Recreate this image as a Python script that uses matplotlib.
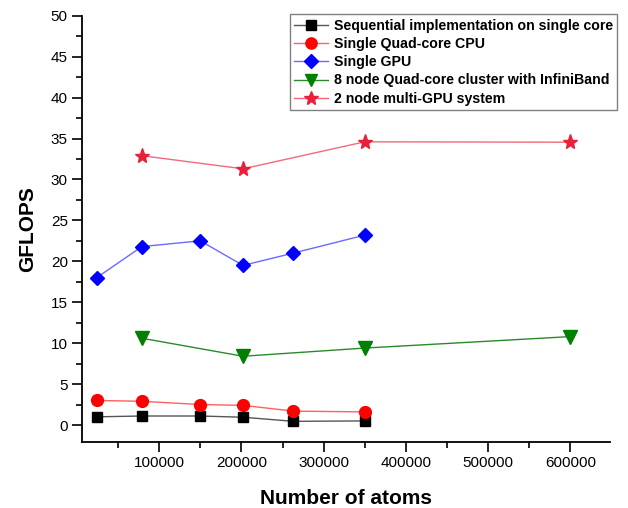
import numpy as np
import matplotlib
matplotlib.use('Agg')
import matplotlib.pyplot as plt
from matplotlib.ticker import MultipleLocator

plt.rcParams['font.family'] = ['Liberation Sans', 'DejaVu Sans']

# Data
atoms6 = [24000, 79000, 150000, 202000, 263000, 350000]
atoms4 = [79000, 202000, 350000, 600000]

seq_core = [1.0, 1.1, 1.1, 0.95, 0.45, 0.5]
quad_cpu = [3.0, 2.9, 2.5, 2.4, 1.7, 1.6]
single_gpu = [18.0, 21.8, 22.5, 19.5, 21.0, 23.2]
cluster_ib = [10.6, 8.4, 9.4, 10.8]
multi_gpu = [32.9, 31.3, 34.6, 34.55]

labels = ['Sequential implementation on single core',
          'Single Quad-core CPU',
          'Single GPU',
          '8 node Quad-core cluster with InfiniBand',
          '2 node multi-GPU system']

fig = plt.figure(figsize=(6.28, 5.08), dpi=100)
ax = fig.add_axes([0.130, 0.1305, 0.841, 0.8385])

ax.plot(atoms6, seq_core, color='#555555', lw=1, marker='s', ms=7.5,
        mfc='black', mec='black', label=labels[0])
ax.plot(atoms6, quad_cpu, color='#ff6060', lw=1, marker='o', ms=8.5,
        mfc='red', mec='red', label=labels[1])
ax.plot(atoms6, single_gpu, color='#6a6aff', lw=1, marker='D', ms=7.5,
        mfc='blue', mec='blue', label=labels[2])
ax.plot(atoms4, cluster_ib, color='#2a8a2a', lw=1, marker='v', ms=9.5,
        mfc='green', mec='green', label=labels[3])
ax.plot(atoms4, multi_gpu, color='#f26a7a', lw=1, marker='*', ms=11,
        mfc='#e8203a', mec='#e8203a', label=labels[4])

ax.set_xlim(5700, 648000)
ax.set_ylim(-2.04, 50)
ax.xaxis.set_major_locator(MultipleLocator(100000))
ax.xaxis.set_minor_locator(MultipleLocator(50000))
ax.yaxis.set_major_locator(MultipleLocator(5))
ax.yaxis.set_minor_locator(MultipleLocator(2.5))
ax.set_xticks([100000, 200000, 300000, 400000, 500000, 600000])

for s in ['top', 'right']:
    ax.spines[s].set_visible(False)
for s in ['left', 'bottom']:
    ax.spines[s].set_linewidth(1.3)
ax.tick_params(which='major', direction='out', length=7, width=1.2, labelsize=11, pad=3)
ax.tick_params(which='minor', direction='out', length=4, width=1.2)

ax.set_xlabel('Number of atoms', fontsize=15, fontweight='bold', labelpad=14)
ax.set_ylabel('GFLOPS', fontsize=15, fontweight='bold', labelpad=10)

leg = ax.legend(loc='upper right', bbox_to_anchor=(1.014, 1.003),
                prop={'weight': 'bold', 'size': 10.2}, fancybox=False,
                edgecolor='#808080', framealpha=1, handlelength=2.4,
                handletextpad=0.4, labelspacing=0.3, borderpad=0.3,
                borderaxespad=0.0, markerscale=0.95)
leg.get_frame().set_linewidth(1.0)

fig.savefig('out.png', dpi=100)
